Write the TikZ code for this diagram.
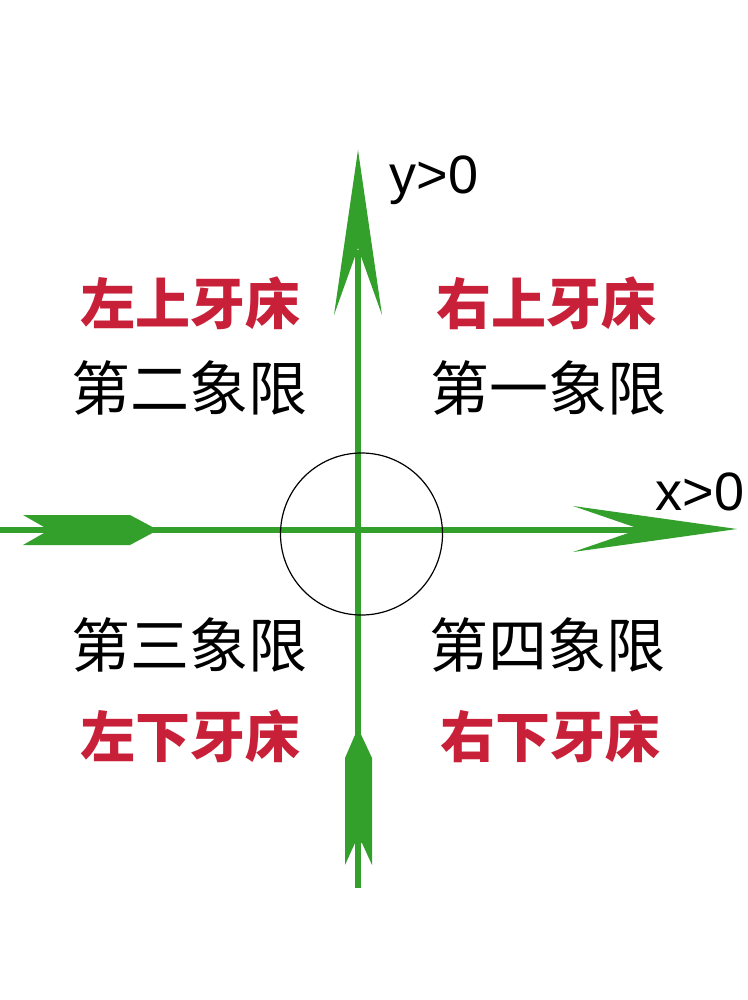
\documentclass[tikz,border=0pt]{standalone}
\usepackage{fontspec}
\setmainfont{Liberation Sans}
\newfontfamily\cjk{Noto Sans CJK SC}
\definecolor{axisgreen}{RGB}{51,160,44}
\definecolor{toothred}{RGB}{200,32,56}
\begin{document}
\begin{tikzpicture}[x=1pt,y=-1pt,
  axis/.style={draw=axisgreen,line width=6pt},
  head/.style={fill=axisgreen},
  redlab/.style={inner sep=0pt,text=toothred,font=\cjk\bfseries\fontsize{55}{55}\selectfont},
  blacklab/.style={inner sep=0pt,text=black,font=\cjk\fontsize{59}{59}\selectfont},
  axlab/.style={inner sep=0pt,text=black,font=\fontsize{54}{54}\selectfont}]
\useasboundingbox (0,0) rectangle (747,1000);
\fill[white] (0,0) rectangle (747,1000);
% named coordinates
\coordinate (xl) at (0,530);
\coordinate (xr) at (640,530);
\coordinate (yt) at (358,250);
\coordinate (yb) at (358,888);
% axes
\draw[axis] (xl) -- (xr);
\draw[axis] (yb) -- (yt);
% arrow heads
\fill[head] (737,529) -- (573,506) -- (640,529) -- (573,552) -- cycle;
\fill[head] (358,150) -- (334,315) -- (358,248) -- (382,315) -- cycle;
% feathers
\fill[head] (23,515) -- (130,515) -- (158,530) -- (130,545) -- (23,545) -- (44,533) -- (44,527) -- cycle;
\fill[head] (358,728) -- (372,758) -- (372,865) -- (362,843) -- (355,843) -- (345,865) -- (345,758) -- cycle;
% circle
\node[draw=black,line width=1.2pt,circle,minimum size=162pt,inner sep=0pt] (c) at (361.5,534) {};
% axis labels
\node[axlab] (ylab) at (434,180) {y>0};
\node[axlab] (xlab) at (700,492) {x>0};
% quadrant labels
\node[redlab] (ul) at (190,303) {左上牙床};
\node[redlab] (ur) at (546,303) {右上牙床};
\node[redlab] (ll) at (190,736) {左下牙床};
\node[redlab] (lr) at (550,736) {右下牙床};
\node[blacklab] (q2) at (189,388) {第二象限};
\node[blacklab] (q1) at (548,388) {第一象限};
\node[blacklab] (q3) at (189,645) {第三象限};
\node[blacklab] (q4) at (547,645) {第四象限};
\end{tikzpicture}
\end{document}
